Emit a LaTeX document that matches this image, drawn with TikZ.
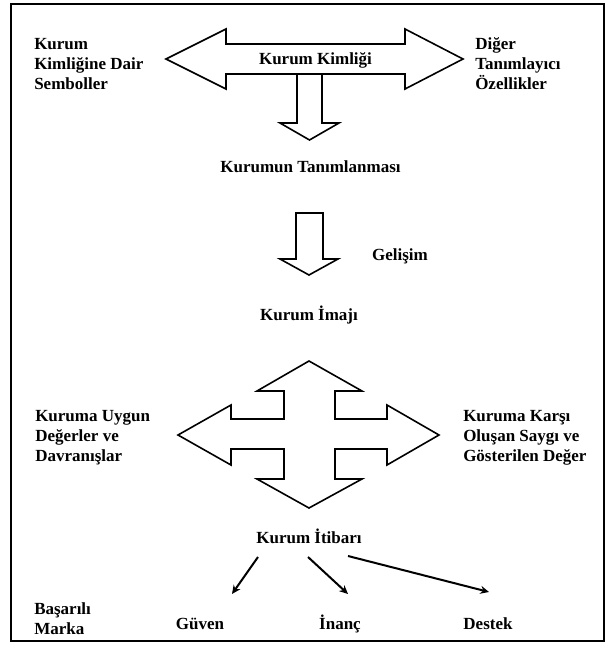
\documentclass[tikz,border=0pt]{standalone}
\usepackage{fontspec}
\setmainfont{Liberation Serif}
\usetikzlibrary{arrows.meta}
\begin{document}
\begin{tikzpicture}[x=0.75pt,y=-0.75pt,
  lbl/.style={font=\fontsize{12.75}{15}\selectfont\bfseries, inner sep=0pt, text=black},
  lblL/.style={lbl, align=left, anchor=north west},
  lblC/.style={lbl, anchor=base},
  bigarrow/.style={draw=black, line width=1.2pt, fill=white, line join=miter},
  link/.style={line width=1.5pt, -{Stealth[length=6.5pt,width=6pt]}}
]
\useasboundingbox (0,0) rectangle (608,647);
% outer frame
\draw[line width=2pt] (11,4) rectangle (604,641);

% block arrows
\draw[bigarrow] (166,59) -- (226,29) -- (226,44) -- (405,44) -- (405,29) -- (463,59)
  -- (405,89) -- (405,74) -- (226,74) -- (226,89) -- cycle;
\draw[bigarrow] (297,74) -- (322,74) -- (322,123) -- (339,123) -- (309.5,140)
  -- (280,123) -- (297,123) -- cycle;
\draw[bigarrow] (296,213) -- (323,213) -- (323,259) -- (338,259) -- (309,275)
  -- (280,259) -- (296,259) -- cycle;
\draw[bigarrow] (309,361) -- (362,391) -- (335,391) -- (335,419) -- (387,419) -- (387,405)
  -- (439,435) -- (387,465) -- (387,449) -- (335,449) -- (335,479) -- (362,479)
  -- (309,508) -- (257,479) -- (284,479) -- (284,449) -- (231,449) -- (231,465)
  -- (178,435) -- (231,405) -- (231,419) -- (284,419) -- (284,391) -- (257,391) -- cycle;

% labels
\node[lblC] (kimlik) at (315.5,64.5) {Kurum Kimliği};
\node[lblC] (tanim) at (310.5,172) {Kurumun Tanımlanması};
\node[lblC] (gelisim) at (400,260) {Gelişim};
\node[lblC] (imaj) at (309,320) {Kurum İmajı};
\node[lblC] (itibar) at (309,543) {Kurum İtibarı};
\node[lblC] (guven) at (200,629) {Güven};
\node[lblC] (inanc) at (340,629) {İnanç};
\node[lblC] (destek) at (488,629) {Destek};

\node[lblL] (sembol) at (34,37.7) {Kurum\\Kimliğine Dair\\Semboller};
\node[lblL] (diger) at (475,37.7) {Diğer\\Tanımlayıcı\\Özellikler};
\node[lblL] (uygun) at (35,409.7) {Kuruma Uygun\\Değerler ve\\Davranışlar};
\node[lblL] (karsi) at (463,409.7) {Kuruma Karşı\\Oluşan Saygı ve\\Gösterilen Değer};
\node[lblL] (marka) at (34,602.7) {Başarılı\\Marka};

% connectors below the reputation label
\coordinate (s1) at (258,557);
\coordinate (e1) at (232,594);
\coordinate (s2) at (308,557);
\coordinate (e2) at (348,594);
\coordinate (s3) at (348,556);
\coordinate (e3) at (489,592);
\draw[link] (s1) -- (e1);
\draw[link] (s2) -- (e2);
\draw[link] (s3) -- (e3);
\end{tikzpicture}
\end{document}
